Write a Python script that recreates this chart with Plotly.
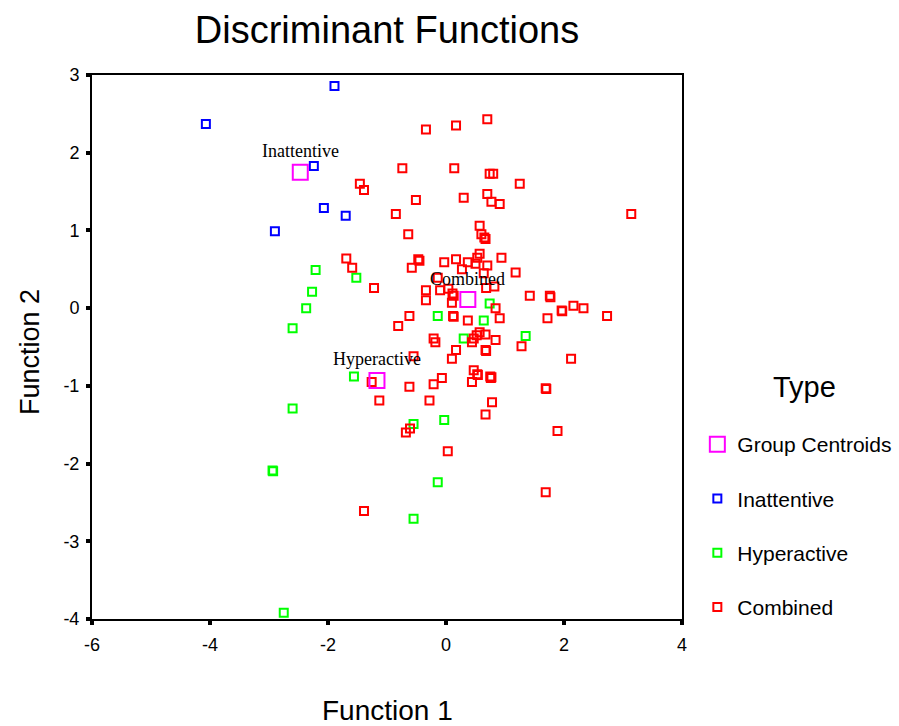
import plotly.graph_objects as go

# ---------------- data ----------------
inatt_x = [-1.89, -4.07, -2.24, -2.07, -1.70, -2.90]
inatt_y = [2.86, 2.37, 1.83, 1.29, 1.19, 0.99]

hyper_x = [-2.21, -1.52, -2.27, -2.37, -2.60, -1.56, -2.60, -2.94, -2.93, -2.75,
           0.74, -0.14, 0.64, 0.30, 1.35, -0.55, -0.03, -0.14, -0.55]
hyper_y = [0.49, 0.39, 0.21, 0.00, -0.26, -0.88, -1.29, -2.09, -2.10, -3.92,
           0.06, -0.10, -0.16, -0.39, -0.36, -1.49, -1.44, -2.24, -2.71]

comb_x = [-1.46, -1.39, -1.69, -1.59, -1.22, -0.34, 0.17, 0.70, -0.74, 0.14,
          0.74, 0.80, 1.25, -0.51, 0.30, 0.70, 0.77, 0.91, 3.14, -0.85,
          -0.64, 0.57, 0.60, 0.65, 0.67, -0.47, -0.45, -0.58, -0.03, 0.17,
          0.27, 0.37, 0.50, 0.53, 0.57, 0.70, 0.94, 0.64, 1.18, -0.14,
          -0.34, -0.34, -0.10, 0.04, 0.11, 0.13, 0.10, 0.68, 0.82, 1.42,
          1.76, 1.77, 1.96, 1.97, 2.16, 2.33, 0.84, -0.62, -0.81, 0.12,
          0.13, 0.37, 0.91, 1.72, 2.73, -0.21, -0.18, 0.17, 0.10, 0.44,
          0.47, 0.52, 0.57, 0.67, 0.84, 0.67, 0.68, 1.28, 2.12, -0.55,
          -1.13, -1.26, -0.62, -0.21, -0.07, -0.28, 0.47, 0.53, 0.54, 0.44,
          0.75, 0.77, 0.76, 0.78, 0.67, 1.69, 1.70, 1.89, -0.61, -0.68,
          0.03, 1.69, -1.39]
comb_y = [1.60, 1.52, 0.64, 0.52, 0.26, 2.30, 2.35, 2.43, 1.80, 1.80,
          1.73, 1.73, 1.60, 1.39, 1.42, 1.47, 1.37, 1.34, 1.21, 1.21,
          0.95, 1.06, 0.95, 0.91, 0.89, 0.63, 0.61, 0.52, 0.59, 0.63,
          0.50, 0.59, 0.57, 0.65, 0.70, 0.55, 0.65, 0.45, 0.46, 0.39,
          0.23, 0.10, 0.23, 0.25, 0.19, 0.16, 0.07, 0.26, 0.28, 0.16,
          0.16, 0.14, -0.03, -0.04, 0.03, 0.00, 0.00, -0.10, -0.23, -0.10,
          -0.11, -0.16, -0.13, -0.13, -0.10, -0.39, -0.44, -0.54, -0.65, -0.44,
          -0.39, -0.35, -0.31, -0.34, -0.41, -0.54, -0.55, -0.49, -0.65, -0.62,
          -1.19, -0.95, -1.01, -0.98, -0.90, -1.19, -0.80, -0.85, -0.86, -0.95,
          -0.88, -0.89, -0.90, -1.21, -1.37, -1.03, -1.04, -1.58, -1.55, -1.60,
          -1.84, -2.37, -2.61]

centroid_names = ["Inattentive", "Hyperactive", "Combined"]
centroid_x = [-2.47, -1.17, 0.37]
centroid_y = [1.75, -0.93, 0.11]

x_ticks = [-6, -4, -2, 0, 2, 4]
y_ticks = [-4, -3, -2, -1, 0, 1, 2, 3]

SANS = "Liberation Sans, Arial, sans-serif"
SERIF = "Liberation Serif, Times New Roman, serif"

fig = go.Figure()

def pts(x, y, name, color, rank):
    return go.Scatter(
        x=x, y=y, mode="markers", name=name, legendgroup=name, legendrank=rank,
        marker=dict(symbol="square-open", size=8, color=color,
                    line=dict(width=2, color=color)),
        hoverinfo="skip",
    )

fig.add_trace(pts(inatt_x, inatt_y, "Inattentive", "#0000FF", 2))
fig.add_trace(pts(hyper_x, hyper_y, "Hyperactive", "#00FF00", 3))
fig.add_trace(pts(comb_x, comb_y, "Combined", "#FF0000", 4))
fig.add_trace(go.Scatter(
    x=centroid_x, y=centroid_y, mode="markers", name="Group Centroids",
    legendgroup="Group Centroids", legendrank=1,
    marker=dict(symbol="square-open", size=15, color="#FF00FF",
                line=dict(width=2, color="#FF00FF")),
    hoverinfo="skip",
))

for nm, cx, cy in zip(centroid_names, centroid_x, centroid_y):
    fig.add_annotation(x=cx, y=cy, text=nm, showarrow=False, yshift=21,
                       font=dict(family=SERIF, size=18, color="black"))

fig.add_annotation(text="Function 1", xref="paper", yref="paper", x=0.5, y=-0.1673,
                   xanchor="center", yanchor="middle", showarrow=False,
                   font=dict(family=SANS, size=28, color="black"))
fig.add_annotation(text="Function 2", xref="paper", yref="paper", x=-0.105, y=0.491,
                   xanchor="center", yanchor="middle", showarrow=False, textangle=-90,
                   font=dict(family=SANS, size=27, color="black"))
fig.add_annotation(text="Type", xref="paper", yref="paper", x=(804 - 92) / 590,
                   y=(619 - 387) / 544, xanchor="center", yanchor="middle",
                   showarrow=False, font=dict(family=SANS, size=29, color="black"))

axis_common = dict(
    showline=True, linecolor="black", linewidth=2, mirror=True,
    ticks="outside", ticklen=4, tickwidth=4, tickcolor="black",
    showgrid=False, zeroline=False,
    tickfont=dict(family=SANS, size=18, color="black"),
)

fig.update_layout(
    width=899, height=726,
    margin=dict(l=92, r=217, t=75, b=107, autoexpand=False),
    paper_bgcolor="white", plot_bgcolor="white",
    title=dict(text="Discriminant Functions", x=0.5, xref="paper", xanchor="center",
               y=1 - 30 / 726, yref="container", yanchor="middle",
               font=dict(family=SANS, size=38, color="black")),
    xaxis=dict(range=[-6, 4], tickvals=x_ticks, ticktext=[str(v) for v in x_ticks],
               ticklabelstandoff=4, **axis_common),
    yaxis=dict(range=[-4, 3], tickvals=y_ticks, ticktext=[str(v) for v in y_ticks],
               ticklabelstandoff=3, **axis_common),
    legend=dict(
        x=1.026, xanchor="left", y=(619 - 424) / 544, yanchor="top",
        font=dict(family=SANS, size=21, color="black"),
        tracegroupgap=24, itemsizing="trace",
        bgcolor="rgba(0,0,0,0)",
    ),
    showlegend=True,
)

fig.write_html("out.html")
